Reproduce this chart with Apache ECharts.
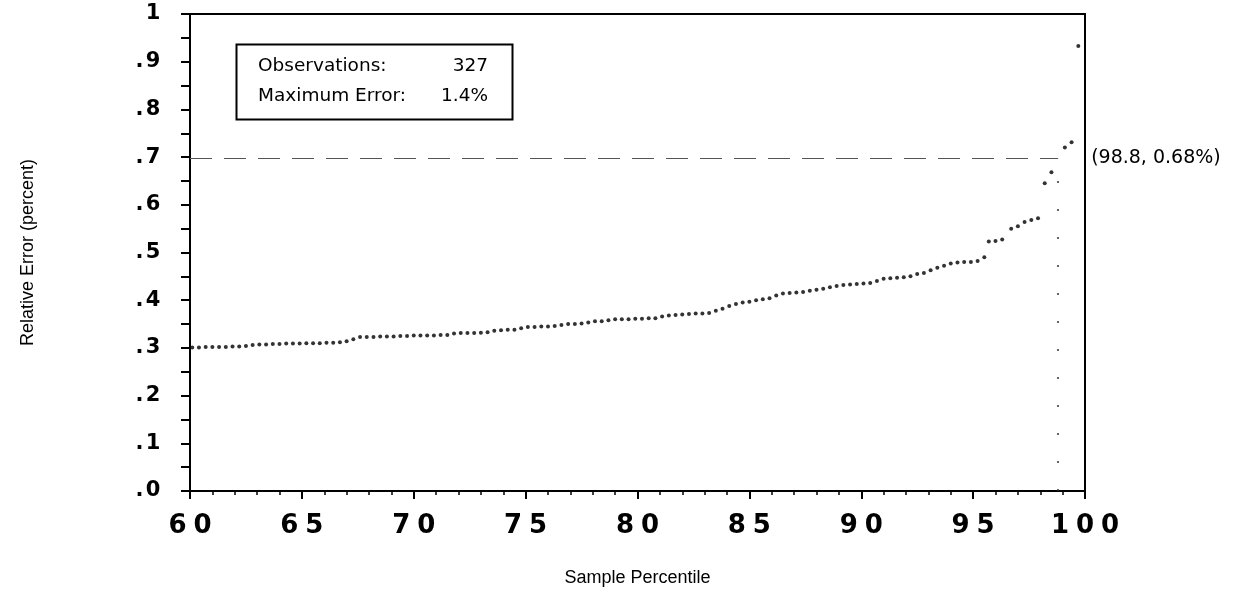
<!DOCTYPE html>
<html>
<head>
<meta charset="utf-8">
<script src="https://cdn.jsdelivr.net/npm/echarts@6/dist/echarts.min.js"></script>
<style>
html,body{margin:0;padding:0;background:#fff;}
#c{width:1238px;height:592px;}
</style>
</head>
<body>
<div id="c"></div>
<script>
// ---- data ----
const pctl = [
60.1,60.4,60.7,61.0,61.3,61.6,61.9,62.2,62.5,62.8,
63.1,63.4,63.7,64.0,64.3,64.6,64.9,65.2,65.5,65.8,
66.1,66.4,66.7,67.0,67.3,67.6,67.9,68.2,68.5,68.8,
69.1,69.4,69.7,70.0,70.3,70.6,70.9,71.2,71.5,71.8,
72.1,72.4,72.7,73.0,73.3,73.6,73.9,74.2,74.5,74.8,
75.1,75.4,75.7,76.0,76.3,76.6,76.9,77.2,77.5,77.8,
78.1,78.4,78.7,79.0,79.3,79.6,79.9,80.2,80.5,80.8,
81.1,81.4,81.7,82.0,82.3,82.6,82.9,83.2,83.5,83.8,
84.1,84.4,84.7,85.0,85.3,85.6,85.9,86.2,86.5,86.8,
87.1,87.4,87.7,88.0,88.3,88.6,88.9,89.2,89.5,89.8,
90.1,90.4,90.7,91.0,91.3,91.6,91.9,92.2,92.5,92.8,
93.1,93.4,93.7,94.0,94.3,94.6,94.9,95.2,95.5,95.7,
96.0,96.3,96.7,97.0,97.3,97.6,97.9,98.2,98.5,99.1,
99.4,99.7
];
const relErr = [
0.301,0.301,0.302,0.302,0.302,0.302,0.303,0.303,0.304,0.306,
0.307,0.307,0.308,0.308,0.309,0.309,0.309,0.310,0.310,0.310,
0.311,0.311,0.312,0.314,0.318,0.323,0.323,0.323,0.324,0.324,
0.324,0.325,0.325,0.326,0.326,0.326,0.326,0.327,0.327,0.330,
0.331,0.331,0.331,0.332,0.333,0.336,0.337,0.338,0.338,0.341,
0.344,0.344,0.345,0.345,0.346,0.348,0.350,0.350,0.351,0.353,
0.356,0.356,0.358,0.360,0.360,0.360,0.361,0.361,0.362,0.362,
0.366,0.368,0.369,0.370,0.371,0.372,0.372,0.373,0.378,0.382,
0.388,0.392,0.395,0.397,0.400,0.402,0.404,0.410,0.414,0.415,
0.416,0.417,0.420,0.422,0.424,0.427,0.430,0.432,0.433,0.434,
0.435,0.436,0.440,0.445,0.446,0.447,0.448,0.450,0.455,0.457,
0.463,0.468,0.472,0.477,0.479,0.480,0.480,0.482,0.490,0.523,
0.524,0.527,0.550,0.555,0.564,0.568,0.572,0.645,0.668,0.720,
0.731,0.933
];
const refX = 98.8;                 // marked percentile
const refLineY = 0.698;            // where the dashed reference line is drawn in the picture
const refLabel = '(98.8, 0.68%)';
const observations = '327';
const maxError = '1.4%';
const xTitle = 'Sample Percentile';
const yTitle = 'Relative Error (percent)';
const xMin = 60, xMax = 100, xStep = 5;
const yMin = 0, yMax = 1, yStep = 0.1;

// ---- chart ----
const chart = echarts.init(document.getElementById('c'), null, {renderer: 'canvas'});

function spaced(str, key) {
  return str.split('').map(c => (c === '.' ? '{p|.}' : '{' + key + '|' + c + '}')).join('');
}

const points = pctl.map((x, i) => [x, relErr[i]]);
const tickFont = {fontFamily: 'DejaVu Sans', fontWeight: 'bold', color: '#000', align: 'center'};
const boxFont = '18.5px "DejaVu Sans"';

const option = {
  animation: false,
  backgroundColor: '#fff',
  grid: {
    left: 190, right: 153, top: 14, bottom: 99,
    show: true, borderColor: '#000', borderWidth: 2, backgroundColor: 'transparent'
  },
  xAxis: {
    type: 'value', min: xMin, max: xMax, interval: xStep,
    name: xTitle, nameLocation: 'middle', nameGap: 78,
    nameTextStyle: {fontFamily: 'Liberation Sans', fontSize: 18, color: '#000'},
    axisLine: {show: true, lineStyle: {color: '#000', width: 2}},
    axisTick: {show: true, inside: false, length: 8, lineStyle: {color: '#000', width: 2}},
    minorTick: {show: true, splitNumber: 5, length: 4, lineStyle: {color: '#000', width: 1.5}},
    splitLine: {show: false},
    axisLabel: {
      margin: 22,
      formatter: v => spaced(String(v), 'd'),
      rich: {
        d: Object.assign({fontSize: 26, width: 25}, tickFont),
        p: Object.assign({fontSize: 26, width: 10}, tickFont)
      }
    }
  },
  yAxis: {
    type: 'value', min: yMin, max: yMax, interval: yStep,
    name: yTitle, nameLocation: 'middle', nameGap: 153, nameRotate: 90,
    nameTextStyle: {fontFamily: 'Liberation Sans', fontSize: 18, color: '#000'},
    axisLine: {show: true, lineStyle: {color: '#000', width: 2}},
    axisTick: {show: true, inside: false, length: 9, lineStyle: {color: '#000', width: 2}},
    minorTick: {show: true, splitNumber: 2, length: 9, lineStyle: {color: '#000', width: 2}},
    splitLine: {show: false},
    axisLabel: {
      margin: 28,
      formatter: v => spaced(v >= 1 ? '1' : '.' + Math.round(v * 10), 'd'),
      rich: {
        d: Object.assign({fontSize: 21, width: 18}, tickFont),
        p: Object.assign({fontSize: 21, width: 9}, tickFont)
      }
    }
  },
  series: [{
    type: 'scatter',
    data: points,
    symbol: 'circle',
    symbolSize: 4,
    itemStyle: {color: '#000'},
    silent: true,
    markLine: {
      silent: true,
      symbol: 'none',
      animation: false,
      data: [
        [
          {coord: [xMin, refLineY], lineStyle: {color: '#555', width: 1, type: [22, 12]}},
          {coord: [refX, refLineY],
           label: {show: true, position: 'end', distance: 33, formatter: refLabel,
                   fontFamily: 'DejaVu Sans', fontSize: 19, color: '#000'}}
        ],
        [
          {coord: [refX, yMin], lineStyle: {color: '#333', width: 1.5, type: [2, 26]}},
          {coord: [refX, refLineY], label: {show: false}}
        ]
      ]
    }
  }],
  graphic: [
    {type: 'rect', left: 234, top: 42, shape: {width: 276, height: 75},
     style: {fill: 'none', stroke: '#000', lineWidth: 2}, silent: true},
    {type: 'text', left: 258, top: 57, style: {text: 'Observations:', font: boxFont, fill: '#000'}},
    {type: 'text', right: 1238 - 488, top: 57, style: {text: observations, font: boxFont, fill: '#000'}},
    {type: 'text', left: 258, top: 87, style: {text: 'Maximum Error:', font: boxFont, fill: '#000'}},
    {type: 'text', right: 1238 - 488, top: 87, style: {text: maxError, font: boxFont, fill: '#000'}}
  ]
};
chart.setOption(option);
</script>
</body>
</html>
